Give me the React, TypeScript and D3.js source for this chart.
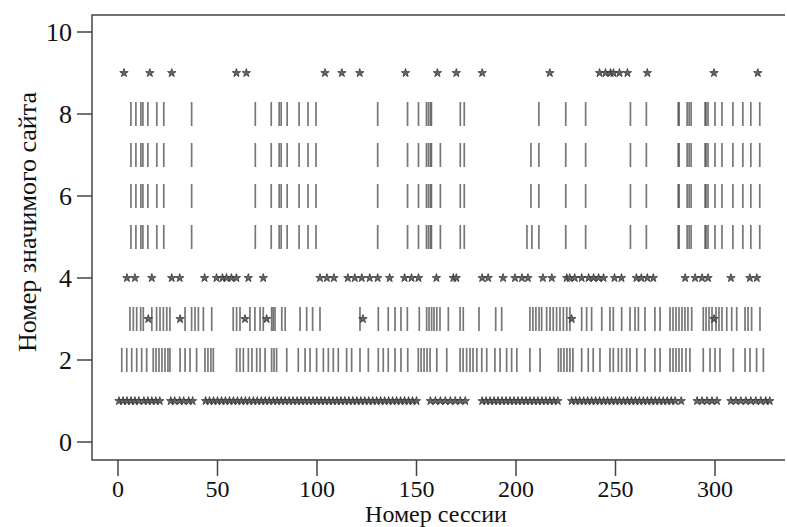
import React, { useEffect, useRef } from "react";
import * as d3 from "d3";

// session numbers where each site was significant
const site9 = [3, 16, 27, 59.5, 64.5, 104, 112.5, 121.5, 144.5, 160.5, 170, 183, 217,
  242, 245, 247.5, 249, 252, 256, 266, 299.5, 321.5];

const site8 = [6.5, 9, 11.5, 12.5, 15, 19.5, 23, 37, 69, 77, 81, 82, 85, 91, 95.5, 99.5,
  130.5, 145.5, 151, 155, 156, 157, 157.5, 172, 174, 211.5, 225, 235, 257.5, 265.5,
  281.5, 282, 286, 287, 288, 295, 295.5, 296.5, 300, 303.5, 309, 314, 318, 322.5];
const site7 = [...site8, 162, 207.5];
const site6 = [...site8, 162, 207.5];
const site5 = [...site8, 162, 205.5, 208];

const site4 = [4.5, 8.5, 17, 27, 31, 43.5, 49.5, 52.5, 54.5, 57, 59.5, 65.5, 73, 101.5, 105,
  108.5, 115.5, 119, 122.5, 126.5, 130.5, 136.5, 144, 147.5, 151, 160, 168.5, 170, 183, 186,
  193.5, 199.5, 203, 206, 213.5, 218, 225.5, 227, 229.5, 233, 236.5, 239, 241.5, 244, 249.5,
  253, 260.5, 263, 266, 269, 285, 290, 293.5, 296.5, 308, 317.5, 321];

const site3 = [6, 7.7, 9.4, 11.4, 12.7, 17, 19.4, 21.1, 22.8, 24.5, 26.1, 33.7, 37, 38.7, 40.4,
  42.9, 47.1, 57.9, 59.6, 61.3, 66.3, 68.8, 71.4, 73, 77.2, 78, 78.9, 82.3, 84, 91.5, 94.8,
  97.8, 101.5, 121.6, 130.8, 135.8, 139.2, 142.2, 145.4, 151.4, 155.1, 156.3, 157.6, 158.8,
  160.2, 161.8, 166, 171.9, 173.5, 181.4, 189.8, 192.8, 207, 208.5, 210, 211.6, 212.9, 215.4,
  217.1, 218.7, 220.4, 222.1, 223.8, 225.5, 227.1, 233, 235.5, 238, 243.1, 247.2, 248.9, 253.1,
  257.3, 259.8, 261.5, 264.8, 269.8, 272.4, 277.4, 278.9, 280.4, 281.9, 283.4, 284.9, 286.4,
  288.3, 294.1, 295.5, 297, 298.5, 300.5, 302, 303.5, 305.9, 308.4, 310.9, 315.1, 316.6,
  318.4, 322.6];
const site3Stars = [15.2, 31.2, 63.8, 74.7, 123.1, 228, 299.5];

const site2 = [1.9, 4.4, 6.9, 9.4, 11.9, 14.4, 17.7, 19.1, 20.6, 22.1, 23.6, 25.1, 26.1, 31.2,
  33.7, 36.2, 39.5, 43.7, 45.2, 46.7, 47.9, 59.6, 61.3, 63, 65.5, 67.3, 69.7, 71.4, 73.9, 77.2,
  78.4, 79.7, 84.8, 90.6, 94, 96.5, 99.8, 103.2, 105.7, 108.2, 110.7, 114.9, 117.4, 121.6,
  125.8, 130.8, 133.3, 135.8, 139.2, 142.2, 145.6, 150.9, 152.3, 153.8, 155.3, 156.8, 160.2,
  165.2, 171.9, 173.4, 175.2, 176.9, 178.4, 180.3, 182.8, 185.3, 189.4, 192, 195.3, 197.8,
  200.4, 207, 212.1, 221.3, 222.6, 224.1, 225.6, 227.1, 228.6, 233, 236.3, 238.8, 242.2, 247.2,
  248.9, 251.4, 253.1, 255.6, 257.3, 260.7, 264.8, 269.8, 272.4, 277.4, 278.9, 280.4, 281.9,
  283.4, 285.4, 287.4, 294.1, 297.5, 300, 302.5, 309.2, 315.1, 317.6, 320.9, 324.3];

const site1 = [0.5, 2.5, 4.5, 6.5, 8.5, 10.5, 13, 15, 17, 19, 21,
  26.5, 28.5, 31, 33, 35.5, 37.5,
  44, 46, 48, 50, 52, 54, 56, 58, 60, 62, 64, 66, 68, 70, 72, 74, 76, 78, 80, 82, 84, 86, 88,
  90, 92, 94, 96, 98, 100, 102, 104, 106, 108, 110, 112, 114, 116, 118, 120, 122, 124, 126,
  128, 130, 132, 134, 136, 138, 140, 142, 144, 146, 148, 150,
  157, 159.5, 162, 164.5, 167, 169.5, 172, 174.5,
  183, 185, 187, 189, 191, 193, 195, 197, 199, 201, 203, 205, 207, 209, 211, 213, 215, 217,
  219, 221,
  228, 230, 232, 234, 236, 238, 240, 242, 244, 246, 248, 250, 252, 254, 256, 258, 260, 262,
  264, 266, 268, 270, 272, 274, 276, 278, 280,
  283,
  291, 293.5, 296, 298.5, 301,
  308, 310.5, 313, 315.5, 318, 320.5, 323, 325.5, 327.5];

const barRows: [number, number[]][] = [
  [8, site8], [7, site7], [6, site6], [5, site5], [3, site3], [2, site2],
];
const starRows: [number, number[]][] = [
  [9, site9], [4, site4], [3, site3Stars], [1, site1],
];

const xTicks = [0, 50, 100, 150, 200, 250, 300];
const yTicks = [0, 2, 4, 6, 8, 10];

const W = 787;
const H = 527;

export default function App() {
  const ref = useRef<SVGSVGElement>(null);

  useEffect(() => {
    const svg = d3.select(ref.current);
    svg.selectAll("*").remove();

    const x = d3.scaleLinear().domain([0, 300]).range([118, 715]);
    const y = d3.scaleLinear().domain([0, 10]).range([442, 32]);
    const box = { left: 92, right: 785, top: 15, bottom: 460 };
    const font = "'Liberation Serif', 'Times New Roman', serif";
    const ink = "#444";

    svg.append("rect").attr("width", W).attr("height", H).attr("fill", "#fff");

    // bars (pch "|")
    barRows.forEach(([row, vals]) => {
      svg.append("g")
        .selectAll("line")
        .data(vals)
        .join("line")
        .attr("x1", (d) => x(d))
        .attr("x2", (d) => x(d))
        .attr("y1", y(row) - 12)
        .attr("y2", y(row) + 12)
        .attr("stroke", "#4a4a4a")
        .attr("stroke-width", 1.7)
        .attr("opacity", 0.75);
    });

    // stars (pch "*")
    const star = d3.symbol(d3.symbolStar, 22);
    starRows.forEach(([row, vals]) => {
      svg.append("g")
        .selectAll("path")
        .data(vals)
        .join("path")
        .attr("d", star)
        .attr("transform", (d) => `translate(${x(d)},${y(row)})`)
        .attr("fill", "#666")
        .attr("stroke", "#333")
        .attr("stroke-width", 0.8);
    });

    // frame
    svg.append("path")
      .attr("d", `M${box.right},${box.top}H${box.left}V${box.bottom}H${box.right}`)
      .attr("fill", "none")
      .attr("stroke", ink)
      .attr("stroke-width", 1.5);

    // y axis
    const gy = svg.append("g");
    gy.selectAll("line").data(yTicks).join("line")
      .attr("x1", box.left - 15).attr("x2", box.left)
      .attr("y1", (d) => y(d)).attr("y2", (d) => y(d))
      .attr("stroke", ink).attr("stroke-width", 1.5);
    gy.selectAll("text").data(yTicks).join("text")
      .attr("x", 72).attr("y", (d) => y(d) + 9)
      .attr("text-anchor", "end")
      .attr("font-family", font).attr("font-size", 26).attr("fill", "#111")
      .text((d) => d);

    // x axis
    const gx = svg.append("g");
    gx.selectAll("line").data(xTicks).join("line")
      .attr("x1", (d) => x(d)).attr("x2", (d) => x(d))
      .attr("y1", box.bottom).attr("y2", box.bottom + 16)
      .attr("stroke", ink).attr("stroke-width", 1.5);
    gx.selectAll("text").data(xTicks).join("text")
      .attr("x", (d) => x(d)).attr("y", 497)
      .attr("text-anchor", "middle")
      .attr("font-family", font).attr("font-size", 24).attr("fill", "#111")
      .text((d) => d);

    svg.append("text")
      .attr("x", 436).attr("y", 522)
      .attr("text-anchor", "middle")
      .attr("font-family", font).attr("font-size", 24).attr("fill", "#111")
      .text("Номер сессии");

    svg.append("text")
      .attr("transform", `translate(36,222) rotate(-90)`)
      .attr("text-anchor", "middle")
      .attr("font-family", font).attr("font-size", 26).attr("fill", "#111")
      .text("Номер значимого сайта");
  }, []);

  return (
    <div style={{ position: "absolute", left: 0, top: 0 }}>
      <svg ref={ref} width={W} height={H} />
    </div>
  );
}
